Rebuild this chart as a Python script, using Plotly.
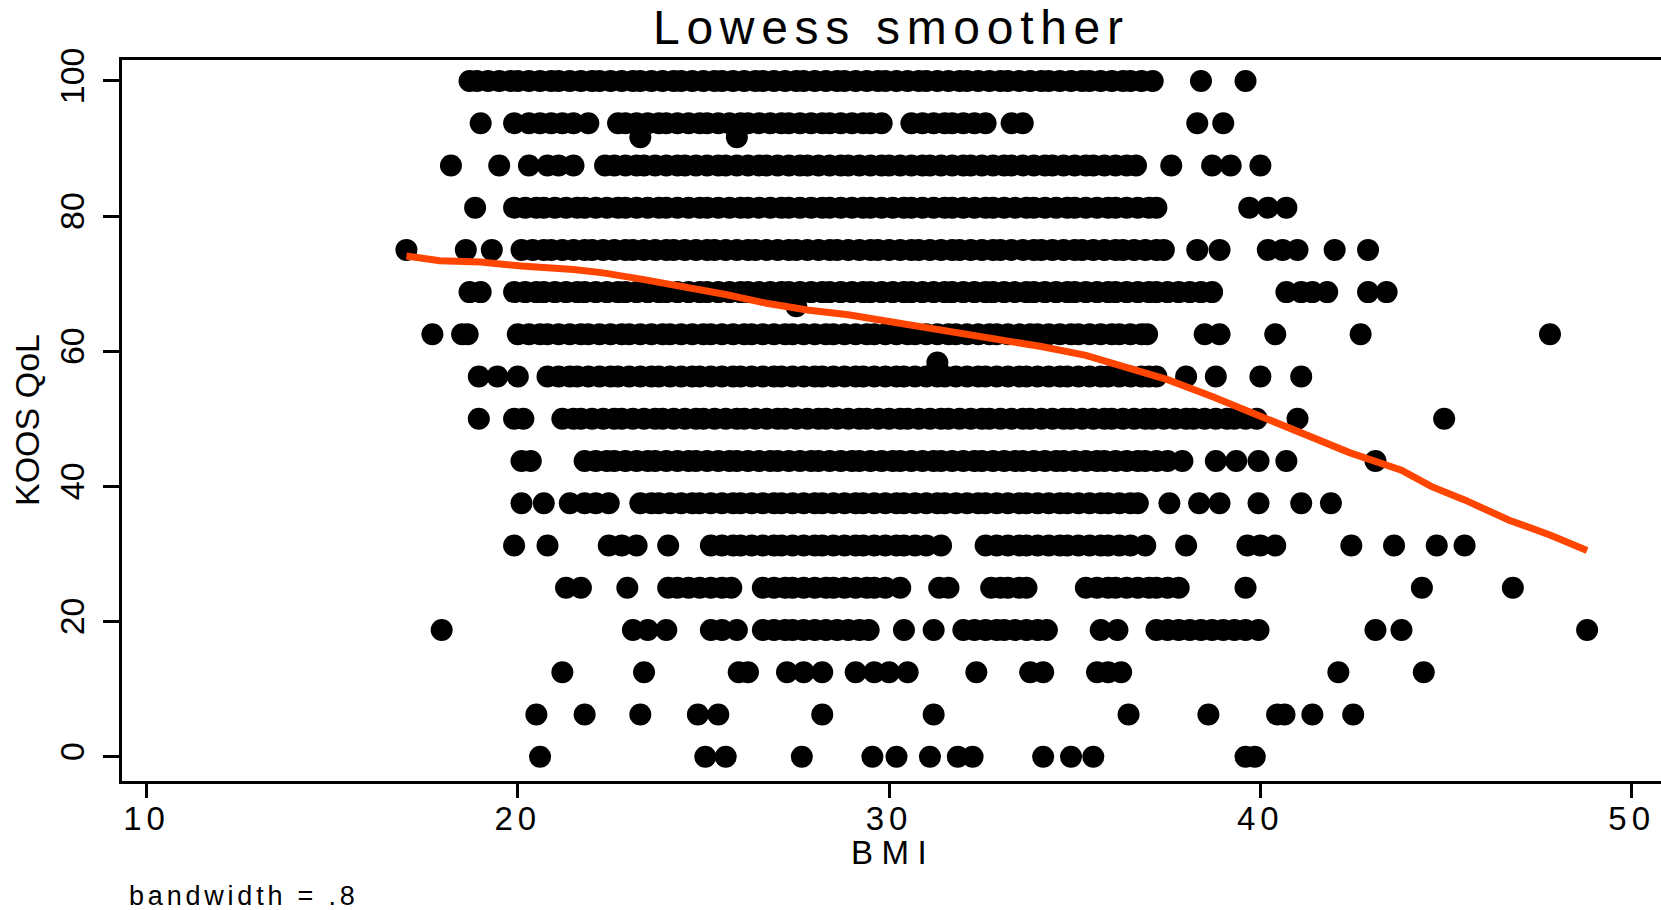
import plotly.graph_objects as go

# ---------------- data ----------------
x_ticks = [10, 20, 30, 40, 50]
x_tick_labels = ["10", "20", "30", "40", "50"]
y_ticks = [0, 20, 40, 60, 80, 100]
y_tick_labels = ["0", "20", "40", "60", "80", "100"]

bmi_q100 = [18.7, 18.9, 19.2, 19.5, 19.8, 20.0, 20.3, 20.6, 20.9, 21.1, 21.4, 21.7, 22.0, 22.2, 22.5, 22.8,
            23.1, 23.3, 23.6, 23.9, 24.2, 24.4, 24.7, 25.0, 25.3, 25.5, 25.8, 26.1, 26.4, 26.6, 26.9, 27.2,
            27.5, 27.7, 28.0, 28.3, 28.6, 28.8, 29.1, 29.4, 29.7, 29.9, 30.2, 30.5, 30.8, 31.0, 31.3, 31.6,
            31.9, 32.1, 32.4, 32.7, 33.0, 33.2, 33.5, 33.8, 34.1, 34.3, 34.6, 34.9, 35.2, 35.4, 35.7, 36.0,
            36.3, 36.5, 36.8, 37.1, 38.4, 39.6]
bmi_q93_75 = [19.0, 19.9, 20.3, 20.6, 20.9, 21.2, 21.5, 21.9, 22.7, 22.9, 23.2, 23.5, 23.8, 24.0, 24.3, 24.6,
              24.9, 25.1, 25.4, 25.7, 26.0, 26.2, 26.5, 26.8, 27.1, 27.3, 27.6, 27.9, 28.2, 28.4, 28.7, 29.0,
              29.3, 29.5, 29.8, 30.6, 30.9, 31.2, 31.5, 31.7, 32.0, 32.3, 32.6, 33.3, 33.6, 38.3, 39.0]
bmi_q91_67 = [23.3, 25.9]
bmi_q87_5 = [18.2, 19.5, 20.3, 20.8, 21.1, 21.5, 22.35, 22.6, 22.9, 23.2, 23.4, 23.7, 24.0, 24.3, 24.5, 24.8,
             25.1, 25.4, 25.6, 25.9, 26.2, 26.5, 26.7, 27.0, 27.3, 27.6, 27.8, 28.1, 28.4, 28.7, 28.9, 29.2,
             29.5, 29.8, 30.0, 30.3, 30.6, 30.9, 31.1, 31.4, 31.7, 32.0, 32.2, 32.5, 32.8, 33.1, 33.3, 33.6,
             33.9, 34.2, 34.4, 34.7, 35.0, 35.3, 35.5, 35.8, 36.1, 36.4, 36.65, 37.6, 38.7, 39.2, 40.0]
bmi_q81_25 = [18.85, 19.9, 20.2, 20.5, 20.7, 21.0, 21.3, 21.6, 21.8, 22.1, 22.4, 22.7, 22.9, 23.2, 23.5, 23.8,
              24.0, 24.3, 24.6, 24.9, 25.1, 25.4, 25.7, 26.0, 26.2, 26.5, 26.8, 27.1, 27.3, 27.6, 27.9, 28.2,
              28.4, 28.7, 29.0, 29.3, 29.5, 29.8, 30.1, 30.4, 30.6, 30.9, 31.2, 31.5, 31.7, 32.0, 32.3, 32.6,
              32.8, 33.1, 33.4, 33.7, 33.9, 34.2, 34.5, 34.8, 35.0, 35.3, 35.6, 35.9, 36.1, 36.4, 36.7, 37.0,
              37.2, 39.7, 40.2, 40.7]
bmi_q75 = [17.0, 18.6, 19.3, 20.1, 20.4, 20.7, 20.9, 21.2, 21.5, 21.8, 22.0, 22.3, 22.6, 22.9, 23.1, 23.4,
           23.7, 24.0, 24.2, 24.5, 24.8, 25.1, 25.3, 25.6, 25.9, 26.2, 26.4, 26.7, 27.0, 27.3, 27.5, 27.8,
           28.1, 28.4, 28.6, 28.9, 29.2, 29.5, 29.7, 30.0, 30.3, 30.6, 30.8, 31.1, 31.4, 31.7, 31.9, 32.2,
           32.5, 32.8, 33.0, 33.3, 33.6, 33.9, 34.1, 34.4, 34.7, 35.0, 35.2, 35.5, 35.8, 36.1, 36.3, 36.6,
           36.9, 37.2, 37.4, 38.3, 38.9, 40.2, 40.6, 41.0, 42.0, 42.9]
bmi_q68_75 = [18.7, 19.0, 19.9, 20.2, 20.5, 20.7, 21.0, 21.3, 21.6, 21.8, 22.1, 22.4, 22.7, 22.9, 23.2, 23.5,
              23.8, 24.0, 24.3, 24.6, 24.9, 25.1, 25.4, 25.7, 26.0, 26.2, 26.5, 26.8, 27.1, 27.3, 27.6, 27.9,
              28.2, 28.4, 28.7, 29.0, 29.3, 29.5, 29.8, 30.1, 30.4, 30.6, 30.9, 31.2, 31.5, 31.7, 32.0, 32.3,
              32.6, 32.8, 33.1, 33.4, 33.7, 33.9, 34.2, 34.5, 34.8, 35.0, 35.3, 35.6, 35.9, 36.1, 36.4, 36.7,
              37.0, 37.2, 37.5, 37.8, 38.1, 38.4, 38.7, 40.7, 41.1, 41.4, 41.8, 42.9, 43.4]
bmi_q66_67 = [27.5]
bmi_q62_5 = [17.7, 18.5, 18.65, 20.0, 20.3, 20.6, 20.8, 21.1, 21.4, 21.7, 21.9, 22.2, 22.5, 22.8, 23.0, 23.3,
             23.6, 23.9, 24.1, 24.4, 24.7, 25.0, 25.2, 25.5, 25.8, 26.1, 26.3, 26.6, 26.9, 27.2, 27.4, 27.7,
             28.0, 28.3, 28.5, 28.8, 29.1, 29.4, 29.6, 29.9, 30.2, 30.5, 30.7, 31.0, 31.3, 31.6, 31.8, 32.1,
             32.4, 32.7, 32.9, 33.2, 33.5, 33.8, 34.0, 34.3, 34.6, 34.9, 35.1, 35.4, 35.7, 36.0, 36.2, 36.5,
             36.8, 36.95, 38.5, 38.9, 40.4, 42.7, 47.8]
bmi_q58_33 = [31.3]
bmi_q56_25 = [18.95, 19.45, 20.0, 20.8, 21.1, 21.4, 21.6, 21.9, 22.2, 22.5, 22.7, 23.0, 23.3, 23.6, 23.8, 24.1,
              24.4, 24.7, 24.9, 25.2, 25.5, 25.8, 26.0, 26.3, 26.6, 26.9, 27.1, 27.4, 27.7, 28.0, 28.2, 28.5,
              28.8, 29.1, 29.3, 29.6, 29.9, 30.2, 30.4, 30.7, 31.0, 31.3, 31.5, 31.8, 32.1, 32.4, 32.6, 32.9,
              33.2, 33.5, 33.7, 34.0, 34.3, 34.6, 34.8, 35.1, 35.4, 35.7, 35.9, 36.2, 36.5, 36.8, 37.0, 37.2,
              38.0, 38.8, 40.0, 41.1]
bmi_q50 = [18.95, 19.9, 20.15, 21.2, 21.5, 21.7, 22.0, 22.3, 22.6, 22.8, 23.1, 23.4, 23.7, 23.9, 24.2, 24.5,
           24.8, 25.0, 25.3, 25.6, 25.9, 26.1, 26.4, 26.7, 27.0, 27.2, 27.5, 27.8, 28.1, 28.3, 28.6, 28.9,
           29.2, 29.4, 29.7, 30.0, 30.3, 30.5, 30.8, 31.1, 31.4, 31.6, 31.9, 32.2, 32.5, 32.7, 33.0, 33.3,
           33.6, 33.8, 34.1, 34.4, 34.7, 34.9, 35.2, 35.5, 35.8, 36.0, 36.3, 36.6, 36.9, 37.1, 37.4, 37.7,
           38.0, 38.2, 38.5, 38.8, 39.1, 39.3, 39.6, 39.9, 41.0, 44.95]
bmi_q43_75 = [20.1, 20.35, 21.8, 22.1, 22.4, 22.6, 22.9, 23.2, 23.5, 23.7, 24.0, 24.3, 24.6, 24.8, 25.1, 25.4,
              25.7, 25.9, 26.2, 26.5, 26.8, 27.0, 27.3, 27.6, 27.9, 28.1, 28.4, 28.7, 29.0, 29.2, 29.5, 29.8,
              30.1, 30.3, 30.6, 30.9, 31.2, 31.4, 31.7, 32.0, 32.3, 32.5, 32.8, 33.1, 33.4, 33.6, 33.9, 34.2,
              34.5, 34.7, 35.0, 35.3, 35.6, 35.8, 36.1, 36.4, 36.7, 36.9, 37.2, 37.5, 37.9, 38.8, 39.35, 39.95,
              40.7, 43.1]
bmi_q37_5 = [20.1, 20.7, 21.4, 21.8, 22.1, 22.45, 23.3, 23.6, 23.8, 24.1, 24.4, 24.7, 24.9, 25.2, 25.5, 25.8,
             26.0, 26.3, 26.6, 26.9, 27.1, 27.4, 27.7, 28.0, 28.2, 28.5, 28.8, 29.1, 29.3, 29.6, 29.9, 30.2,
             30.4, 30.7, 31.0, 31.3, 31.5, 31.8, 32.1, 32.4, 32.6, 32.9, 33.2, 33.5, 33.7, 34.0, 34.3, 34.6,
             34.8, 35.1, 35.4, 35.7, 35.9, 36.2, 36.5, 36.7, 37.55, 38.35, 38.9, 39.95, 41.1, 41.9]
bmi_q31_25 = [19.9, 20.8, 22.45, 22.8, 23.2, 24.05, 25.2, 25.5, 25.8, 26.0, 26.3, 26.6, 26.9, 27.1, 27.4, 27.7,
              28.0, 28.2, 28.5, 28.8, 29.1, 29.3, 29.6, 29.9, 30.2, 30.4, 30.7, 31.0, 31.4, 32.6, 32.9, 33.2,
              33.5, 33.7, 34.0, 34.3, 34.6, 34.8, 35.1, 35.4, 35.7, 35.9, 36.2, 36.5, 36.9, 38.0, 39.65, 40.0,
              40.4, 42.45, 43.6, 44.75, 45.5]
bmi_q25 = [21.3, 21.7, 22.95, 24.05, 24.3, 24.6, 24.9, 25.2, 25.5, 25.75, 26.6, 26.9, 27.2, 27.4, 27.7, 28.0,
           28.3, 28.5, 28.8, 29.1, 29.4, 29.6, 29.9, 30.3, 31.35, 31.6, 32.75, 33.0, 33.2, 33.5, 33.7, 35.3,
           35.6, 35.9, 36.1, 36.4, 36.7, 37.0, 37.2, 37.5, 37.8, 39.6, 44.35, 46.8]
bmi_q18_75 = [17.95, 23.1, 23.5, 24.0, 25.2, 25.5, 25.9, 26.6, 26.9, 27.2, 27.4, 27.7, 28.0, 28.3, 28.6, 28.9,
              29.2, 29.45, 30.4, 31.2, 32.0, 32.3, 32.6, 32.9, 33.1, 33.4, 33.7, 34.0, 34.25, 35.7, 36.15, 37.2,
              37.5, 37.8, 38.1, 38.4, 38.7, 39.0, 39.3, 39.6, 39.95, 43.1, 43.8, 48.8]
bmi_q12_5 = [21.2, 23.4, 25.95, 26.2, 27.25, 27.7, 28.2, 29.1, 29.6, 30.0, 30.5, 32.35, 33.8, 34.15, 35.6, 35.9,
             36.25, 42.1, 44.4]
bmi_q6_25 = [20.5, 21.8, 23.3, 24.85, 25.4, 28.2, 31.2, 36.45, 38.6, 40.45, 40.65, 41.4, 42.5]
bmi_q0 = [20.6, 25.05, 25.6, 27.65, 29.55, 30.2, 31.1, 31.85, 32.25, 34.15, 34.9, 35.5, 39.6, 39.85]

qol_levels = [100, 93.75, 91.67, 87.5, 81.25, 75, 68.75, 66.67, 62.5, 58.33, 56.25, 50, 43.75, 37.5,
              31.25, 25, 18.75, 12.5, 6.25, 0]
bmi_rows = [bmi_q100, bmi_q93_75, bmi_q91_67, bmi_q87_5, bmi_q81_25, bmi_q75, bmi_q68_75, bmi_q66_67,
            bmi_q62_5, bmi_q58_33, bmi_q56_25, bmi_q50, bmi_q43_75, bmi_q37_5, bmi_q31_25, bmi_q25,
            bmi_q18_75, bmi_q12_5, bmi_q6_25, bmi_q0]

lowess_bmi = [17.0, 17.9, 19.0, 20.1, 21.5, 22.3, 23.4, 24.5, 25.6, 26.7, 27.8, 28.9, 30.0, 31.1, 32.2,
              33.3, 34.1, 35.3, 36.4, 37.5, 38.7, 39.8, 40.6, 41.0, 42.4, 43.8, 44.6, 45.5, 46.7, 47.8, 48.8]
lowess_qol = [74.1, 73.4, 73.2, 72.6, 72.1, 71.6, 70.6, 69.6, 68.4, 67.1, 66.1, 65.4, 64.4, 63.4, 62.4,
              61.5, 60.7, 59.4, 57.7, 55.8, 53.3, 50.8, 49.0, 48.2, 45.0, 42.4, 40.0, 38.0, 35.0, 32.8, 30.5]

# ---------------- figure ----------------
W, H = 1661, 910
L, R, T, B = 122, 0, 60, 129
FONT = "Liberation Sans, Arial, Helvetica, sans-serif"


def px2x(px):
    return (px - L) / (W - L - R)


def py2y(py):
    return (H - B - py) / (H - T - B)


def spaced(txt, ls):
    return '<span style="letter-spacing:%gpx">%s</span>' % (ls, txt)


xs, ys = [], []
for q, row in zip(qol_levels, bmi_rows):
    xs.extend(row)
    ys.extend([q] * len(row))

fig = go.Figure()
fig.add_trace(go.Scatter(x=xs, y=ys, mode="markers",
                         marker=dict(color="black", size=22, line=dict(width=0)),
                         showlegend=False, hoverinfo="skip"))
fig.add_trace(go.Scatter(x=lowess_bmi, y=lowess_qol, mode="lines",
                         line=dict(color="#FF4500", width=7),
                         showlegend=False, hoverinfo="skip"))

fig.update_layout(
    width=W, height=H,
    margin=dict(l=L, r=R, t=T, b=B, pad=0),
    plot_bgcolor="white", paper_bgcolor="white",
    font=dict(family=FONT, color="black"),
    showlegend=False,
)
fig.update_xaxes(range=[9.34, 50.79], tickvals=x_ticks,
                 ticktext=[spaced(t, 5) for t in x_tick_labels],
                 showgrid=False, zeroline=False, showline=True, linecolor="black",
                 linewidth=3, mirror=True, ticks="outside", ticklen=14, tickwidth=3,
                 tickcolor="black", tickfont=dict(size=33, family=FONT, color="black"),
                 ticklabelstandoff=-8)
fig.update_yaxes(range=[-3.6, 103.1], tickvals=y_ticks, ticktext=y_tick_labels,
                 tickangle=-90, showgrid=False, zeroline=False, showline=True,
                 linecolor="black", linewidth=3, mirror=False, ticks="outside",
                 ticklen=16, tickwidth=3, tickcolor="black",
                 tickfont=dict(size=34, family=FONT, color="black"),
                 ticklabelstandoff=5)

annots = [
    dict(text=spaced("Lowess smoother", 6.7), x=px2x(891), y=py2y(27), xanchor="center",
         yanchor="middle", font=dict(size=48)),
    dict(text="KOOS QoL", x=px2x(27), y=py2y(420), textangle=-90, xanchor="center",
         yanchor="middle", font=dict(size=34)),
    dict(text=spaced("BMI", 8.5), x=px2x(893), y=py2y(852), xanchor="center",
         yanchor="middle", font=dict(size=33)),
    dict(text=spaced("bandwidth = .8", 3.8), x=px2x(127), y=py2y(896), xanchor="left",
         yanchor="middle", font=dict(size=27)),
]
for a in annots:
    a.update(xref="paper", yref="paper", showarrow=False)
    a["font"].update(family=FONT, color="black")
    fig.add_annotation(**a)

fig.write_html("out.html", config={"displayModeBar": False},
               post_script="document.body.style.margin='0';document.body.style.overflow='hidden';")
